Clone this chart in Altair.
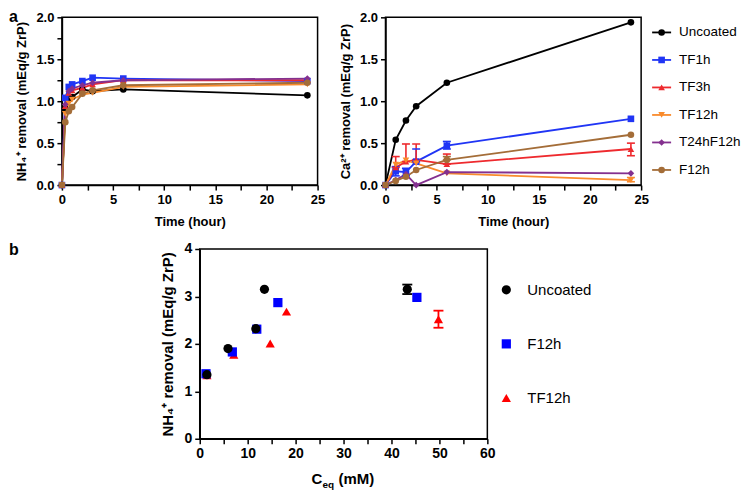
import altair as alt
import pandas as pd

FONT = "Liberation Sans"

# ---------------- panel a : series ----------------
series = ["Uncoated", "TF1h", "TF3h", "TF12h", "T24hF12h", "F12h"]
series_colors = ["#000000", "#2035f5", "#ee2a2e", "#f98b2c", "#84308f", "#a46d38"]
series_shapes = ["circle", "square", "triangle-up", "triangle-down", "diamond", "circle"]

# NH4+ removal vs time
time_nh4 = [0, 0.33, 0.67, 1, 2, 3, 6, 24]
nh4_uncoated = [0, 0.91, 1.02, 1.05, 1.14, 1.12, 1.14, 1.07]
nh4_tf1h = [0, 1.04, 1.17, 1.20, 1.24, 1.28, 1.27, 1.24]
nh4_tf3h = [0, 0.94, 1.10, 1.13, 1.16, 1.20, 1.25, 1.25]
nh4_tf12h = [0, 0.85, 0.97, 1.02, 1.08, 1.10, 1.17, 1.20]
nh4_t24hf12h = [0, 0.96, 1.12, 1.15, 1.19, 1.22, 1.25, 1.27]
nh4_f12h = [0, 0.75, 0.88, 0.93, 1.09, 1.13, 1.19, 1.22]

# Ca2+ removal vs time
time_ca = [0, 1, 2, 3, 6, 24]
ca_uncoated = [0, 0.54, 0.77, 0.94, 1.22, 1.94]
ca_tf1h = [0, 0.165, 0.155, 0.28, 0.47, 0.79]
ca_tf3h = [0, 0.21, 0.28, 0.30, 0.25, 0.43]
ca_tf12h = [0, 0.245, 0.295, 0.26, 0.14, 0.06]
ca_t24hf12h = [0, 0.06, 0.13, 0.0, 0.155, 0.14]
ca_f12h = [0, 0.05, 0.10, 0.18, 0.30, 0.60]

# Ca2+ error bars
ca_err_series = ["TF1h", "TF1h", "TF1h", "TF1h", "TF3h", "TF3h", "TF3h", "TF3h", "TF3h", "TF12h", "F12h"]
ca_err_time = [1, 2, 3, 6, 1, 2, 3, 6, 24, 24, 6]
ca_err_low = [0.11, 0.11, 0.28, 0.43, 0.21, 0.28, 0.30, 0.25, 0.35, 0.04, 0.30]
ca_err_high = [0.22, 0.20, 0.43, 0.52, 0.34, 0.49, 0.49, 0.37, 0.50, 0.09, 0.34]

time_ticks = [0, 2.5, 5, 7.5, 10, 12.5, 15, 17.5, 20, 22.5, 25]
removal_ticks_a = [0, 0.25, 0.5, 0.75, 1.0, 1.25, 1.5, 1.75, 2.0]

# ---------------- panel b ----------------
b_series = ["Uncoated", "F12h", "TF12h"]
b_colors = ["#000000", "#0000ff", "#ff0000"]
b_shapes = ["circle", "square", "triangle-up"]
ceq_uncoated = [1.5, 5.9, 11.7, 13.5, 43.3]
q_uncoated = [1.35, 1.90, 2.32, 3.15, 3.15]
ceq_f12h = [1.3, 6.8, 11.9, 16.3, 45.3]
q_f12h = [1.37, 1.83, 2.31, 2.87, 2.98]
ceq_tf12h = [1.5, 7.1, 14.7, 18.1, 49.8]
q_tf12h = [1.34, 1.77, 2.01, 2.68, 2.52]
b_err_series = ["Uncoated", "TF12h"]
b_err_ceq = [43.3, 49.8]
b_err_low = [3.05, 2.34]
b_err_high = [3.25, 2.70]

ceq_ticks = [0, 5, 10, 15, 20, 25, 30, 35, 40, 45, 50, 55, 60]
removal_ticks_b = [0, 0.5, 1, 1.5, 2, 2.5, 3, 3.5, 4]

# ---------------- tables ----------------
nh4_lists = [nh4_uncoated, nh4_tf1h, nh4_tf3h, nh4_tf12h, nh4_t24hf12h, nh4_f12h]
ca_lists = [ca_uncoated, ca_tf1h, ca_tf3h, ca_tf12h, ca_t24hf12h, ca_f12h]
nh4_df = pd.DataFrame([
    {"series": s, "time": t, "value": v}
    for s, vals in zip(series, nh4_lists) for t, v in zip(time_nh4, vals)
])
ca_df = pd.DataFrame([
    {"series": s, "time": t, "value": v}
    for s, vals in zip(series, ca_lists) for t, v in zip(time_ca, vals)
])
ca_err_df = pd.DataFrame({"series": ca_err_series, "time": ca_err_time,
                          "low": ca_err_low, "high": ca_err_high})
legend_df = pd.DataFrame({"series": series})

b_order = ["TF12h", "F12h", "Uncoated"]
b_data = {"Uncoated": (ceq_uncoated, q_uncoated), "F12h": (ceq_f12h, q_f12h),
          "TF12h": (ceq_tf12h, q_tf12h)}
b_df = pd.DataFrame([
    {"group": s, "ceq": c, "q": q}
    for s in b_order for c, q in zip(*b_data[s])
])
b_err_df = pd.DataFrame({"group": b_err_series, "ceq": b_err_ceq,
                         "low": b_err_low, "high": b_err_high})
b_legend_df = pd.DataFrame({"group": b_series})

W_A, H_A = 256, 168
W_B, H_B = 288, 190
GAP = 68
PT_A = 44

color_a = alt.Color("series:N", scale=alt.Scale(domain=series, range=series_colors), legend=None)
shape_a = alt.Shape("series:N", scale=alt.Scale(domain=series, range=series_shapes), legend=None)

x_time = alt.X("time:Q", scale=alt.Scale(domain=[0, 25], nice=False),
               axis=alt.Axis(values=time_ticks, title="Time (hour)", titlePadding=9,
                             labelExpr="datum.value % 5 === 0 ? datum.label : ''"))


def y_axis(title):
    return alt.Axis(values=removal_ticks_a, title=title, format=".1f", titlePadding=7,
                    labelExpr="datum.value % 0.5 === 0 ? datum.label : ''")


def time_panel(df, field_title):
    y = alt.Y("value:Q", scale=alt.Scale(domain=[0, 2], nice=False), axis=y_axis(field_title))
    base = alt.Chart(df)
    lines = base.mark_line(strokeWidth=1.8).encode(x=x_time, y=y, color=color_a, order="time:Q")
    pts = base.mark_point(filled=True, size=PT_A, opacity=1).encode(x=x_time, y=y, color=color_a, shape=shape_a)
    return lines, pts


l_lines, l_pts = time_panel(nh4_df, "NH₄⁺ removal (mEq/g ZrP)")
a_label = alt.Chart(pd.DataFrame({"t": ["a"]})).mark_text(
    font=FONT, fontSize=16, fontWeight="bold", align="left", baseline="top", color="black"
).encode(x=alt.value(-53), y=alt.value(-8), text="t:N")
left = alt.layer(l_lines, l_pts, a_label).properties(width=W_A, height=H_A)

r_lines, r_pts = time_panel(ca_df, "Ca²⁺ removal (mEq/g ZrP)")
y_lo = alt.Y("low:Q", scale=alt.Scale(domain=[0, 2], nice=False))
err_base = alt.Chart(ca_err_df)
err_rule = err_base.mark_rule(strokeWidth=1.6).encode(x=x_time, y=y_lo, y2="high:Q", color=color_a)
cap_hi = err_base.mark_tick(orient="horizontal", size=8, thickness=1.6, opacity=1).encode(
    x=x_time, y=alt.Y("high:Q"), color=color_a)
cap_lo = err_base.mark_tick(orient="horizontal", size=8, thickness=1.6, opacity=1).encode(
    x=x_time, y=alt.Y("low:Q"), color=color_a)
data_layer = alt.layer(r_lines, err_rule, cap_hi, cap_lo, r_pts)

leg_y = alt.Y("series:N", scale=alt.Scale(domain=series, padding=0.1), axis=None)
leg_base = alt.Chart(legend_df)
leg_line = leg_base.mark_rule(strokeWidth=1.8).encode(
    x=alt.value(W_A + 11), x2=alt.value(W_A + 30), y=leg_y, color=color_a)
leg_pt = leg_base.mark_point(filled=True, size=PT_A, opacity=1).encode(
    x=alt.value(W_A + 20.5), y=leg_y, color=color_a, shape=shape_a)
leg_txt = leg_base.mark_text(font=FONT, fontSize=13.5, align="left", baseline="middle", color="black").encode(
    x=alt.value(W_A + 38), y=leg_y, text="series:N")
legend_layer = alt.layer(leg_line, leg_pt, leg_txt)
right = alt.layer(data_layer, legend_layer).resolve_scale(y="independent").properties(width=W_A, height=H_A)

# ---------------- panel b chart ----------------
color_b = alt.Color("group:N", scale=alt.Scale(domain=b_series, range=b_colors), legend=None)
shape_b = alt.Shape("group:N", scale=alt.Scale(domain=b_series, range=b_shapes), legend=None)
x_ceq = alt.X("ceq:Q", scale=alt.Scale(domain=[0, 60], nice=False),
              axis=alt.Axis(values=ceq_ticks, title="", labelFontSize=14,
                            labelExpr="datum.value % 10 === 0 ? datum.label : ''"))
y_q = alt.Y("q:Q", scale=alt.Scale(domain=[0, 4], nice=False),
            axis=alt.Axis(values=removal_ticks_b, title="NH₄⁺ removal (mEq/g ZrP)", titleFontSize=15,
                          labelFontSize=14, titlePadding=8,
                          labelExpr="datum.value % 1 === 0 ? datum.label : ''"))
b_pts = alt.Chart(b_df).mark_point(filled=True, size=85, opacity=1).encode(
    x=x_ceq, y=y_q, color=color_b, shape=shape_b)
b_err_base = alt.Chart(b_err_df)
b_rule = b_err_base.mark_rule(strokeWidth=1.8).encode(
    x=x_ceq, y=alt.Y("low:Q", scale=alt.Scale(domain=[0, 4], nice=False)), y2="high:Q", color=color_b)
b_cap_hi = b_err_base.mark_tick(orient="horizontal", size=10, thickness=1.8, opacity=1).encode(
    x=x_ceq, y=alt.Y("high:Q"), color=color_b)
b_cap_lo = b_err_base.mark_tick(orient="horizontal", size=10, thickness=1.8, opacity=1).encode(
    x=x_ceq, y=alt.Y("low:Q"), color=color_b)

title_df = pd.DataFrame({"t": ["C"]})
ttl_c = alt.Chart(title_df).mark_text(font=FONT, fontSize=15, fontWeight="bold", align="left",
                                      baseline="alphabetic", color="black").encode(
    x=alt.value(112), y=alt.value(H_B + 45), text=alt.value("C"))
ttl_eq = alt.Chart(title_df).mark_text(font=FONT, fontSize=10, fontWeight="bold", align="left",
                                       baseline="alphabetic", color="black").encode(
    x=alt.value(123), y=alt.value(H_B + 49), text=alt.value("eq"))
ttl_mm = alt.Chart(title_df).mark_text(font=FONT, fontSize=15, fontWeight="bold", align="left",
                                       baseline="alphabetic", color="black").encode(
    x=alt.value(139), y=alt.value(H_B + 45), text=alt.value("(mM)"))
b_data_layer = alt.layer(b_rule, b_cap_hi, b_cap_lo, b_pts, ttl_c, ttl_eq, ttl_mm)

b_leg_y = alt.Y("group:N", scale=alt.Scale(domain=b_series, padding=0.755), axis=None)
b_leg_base = alt.Chart(b_legend_df)
b_leg_pt = b_leg_base.mark_point(filled=True, size=85, opacity=1).encode(
    x=alt.value(W_B + 19), y=b_leg_y, color=color_b, shape=shape_b)
b_leg_txt = b_leg_base.mark_text(font=FONT, fontSize=15, align="left", baseline="middle", color="black").encode(
    x=alt.value(W_B + 40), y=b_leg_y, text="group:N")
bplot = alt.layer(b_data_layer, alt.layer(b_leg_pt, b_leg_txt)).resolve_scale(
    y="independent").properties(width=W_B, height=H_B)

spacer = alt.Chart(pd.DataFrame({"t": ["b"]})).mark_text(
    font=FONT, fontSize=16, fontWeight="bold", align="left", baseline="top", color="black"
).encode(x=alt.value(-53), y=alt.value(-7), text="t:N").properties(
    width=138 - GAP, height=H_B, view=alt.ViewBackground(stroke="transparent"))

top = alt.hconcat(left, right, spacing=GAP, bounds="flush")
bottom = alt.hconcat(spacer, bplot, spacing=GAP, bounds="flush")
chart = alt.vconcat(top, bottom, spacing=12).resolve_scale(
    color="independent", shape="independent").properties(
    padding={"left": 0, "top": 0, "right": 0, "bottom": 0}
).configure(font=FONT).configure_view(stroke="black", strokeWidth=1.5).configure_axis(
    domainColor="black", domainWidth=1.5, tickColor="black", tickWidth=1.5, tickSize=5,
    labelColor="black", labelFont=FONT, labelFontWeight="bold", labelFontSize=13,
    titleColor="black", titleFont=FONT, titleFontWeight="bold", titleFontSize=13,
    grid=False, labelFlush=False, labelOverlap=False, labelPadding=3)

chart.save("out.html", embed_options={"renderer": "svg", "actions": False})
